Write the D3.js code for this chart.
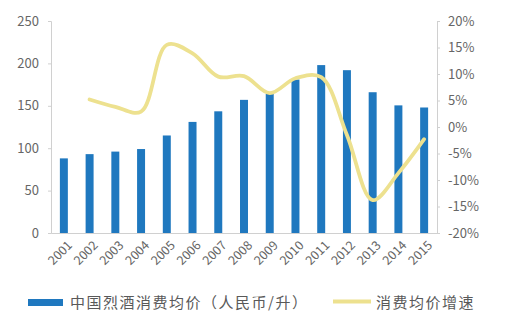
<!DOCTYPE html>
<html>
<head>
<meta charset="utf-8">
<script src="https://cdn.jsdelivr.net/npm/d3@7"></script>
<style>
  html, body { margin: 0; padding: 0; background: #ffffff; }
  svg { display: block; }
  text { font-family: "Noto Sans CJK SC", "Noto Sans", sans-serif; fill: #595959; }
</style>
</head>
<body>
<svg id="chart" width="513" height="324"></svg>
<script>
// Years on the category axis
const years = ["2001","2002","2003","2004","2005","2006","2007","2008","2009","2010","2011","2012","2013","2014","2015"];
// Average spirits consumption price (RMB per litre)
const avgPrice = [88, 93, 96, 99, 115, 131, 143.5, 157, 164, 181, 198, 192, 166, 150.5, 148];
// Year-on-year growth of the average price (%), no value for 2001
const growth = [null, 5.2, 3.8, 2.9, 15.5, 13.9, 9.5, 9.6, 6.4, 9.2, 9.4, -1.5, -13.8, -8.7, -2.3];
// Tick labels
const leftTicks = [0, 50, 100, 150, 200, 250];
const rightTicks = [-20, -15, -10, -5, 0, 5, 10, 15, 20];
// Legend labels
const seriesNames = ["中国烈酒消费均价（人民币/升）", "消费均价增速"];

const barColor = "#1f78bf";
const lineColor = "#ede18f";
const axisColor = "#d0d0d0";

const svg = d3.select("#chart");
const m = { left: 51, right: 437, top: 21, bottom: 233 };

const x = d3.scaleBand().domain(years).range([m.left, m.right]).paddingInner(0.69).paddingOuter(0.345);
const yL = d3.scaleLinear().domain([0, 250]).range([m.bottom, m.top]);
const yR = d3.scaleLinear().domain([-20, 20]).range([m.bottom, m.top]);

// Bars
svg.append("g").selectAll("rect").data(avgPrice).join("rect")
  .attr("x", (d, i) => x(years[i]))
  .attr("width", x.bandwidth())
  .attr("y", d => yL(d))
  .attr("height", d => yL(0) - yL(d))
  .attr("fill", barColor);

// Left axis
const gL = svg.append("g").attr("transform", `translate(${m.left},0)`)
  .call(d3.axisLeft(yL).tickValues(leftTicks).tickSize(3).tickPadding(9));
// Right axis
const gR = svg.append("g").attr("transform", `translate(${m.right},0)`)
  .call(d3.axisRight(yR).tickValues(rightTicks).tickSize(3).tickPadding(8).tickFormat(d => d + "%"));
// Bottom axis
const gB = svg.append("g").attr("transform", `translate(0,${m.bottom})`)
  .call(d3.axisBottom(x).tickSize(0).tickPadding(0));

[gL, gR, gB].forEach(g => {
  g.selectAll("path.domain").attr("stroke", axisColor).attr("stroke-width", 1);
  g.selectAll(".tick line").attr("stroke", axisColor);
  g.selectAll("text").attr("font-size", 13).style("fill", "#666666")
    .style("font-family", '"Noto Sans CJK SC", sans-serif');
});
gB.selectAll(".tick text")
  .attr("font-size", 12.5)
  .attr("text-anchor", "end")
  .attr("transform", "translate(6,10) rotate(-45)")
  .attr("dy", "0.35em");

// Growth line, smoothed
const pts = growth.map((g, i) => g === null ? null : [x(years[i]) + x.bandwidth() / 2, yR(g)]).filter(p => p);
svg.append("path")
  .attr("d", d3.line().curve(d3.curveCatmullRom.alpha(0.5))(pts))
  .attr("fill", "none")
  .attr("stroke", lineColor)
  .attr("stroke-width", 3.8)
  .attr("stroke-linecap", "round");

// Legend
const lg = svg.append("g");
lg.append("rect").attr("x", 28).attr("y", 299).attr("width", 35).attr("height", 7).attr("fill", barColor);
lg.append("text").attr("x", 70).attr("y", 302.5).attr("dy", "0.35em")
  .attr("font-size", 15).attr("letter-spacing", 1.5).text(seriesNames[0]);
lg.append("line").attr("x1", 333).attr("x2", 371).attr("y1", 301.5).attr("y2", 301.5)
  .attr("stroke", lineColor).attr("stroke-width", 3.8);
lg.append("text").attr("x", 376).attr("y", 302.5).attr("dy", "0.35em")
  .attr("font-size", 15).attr("letter-spacing", 1.5).text(seriesNames[1]);
</script>
</body>
</html>
